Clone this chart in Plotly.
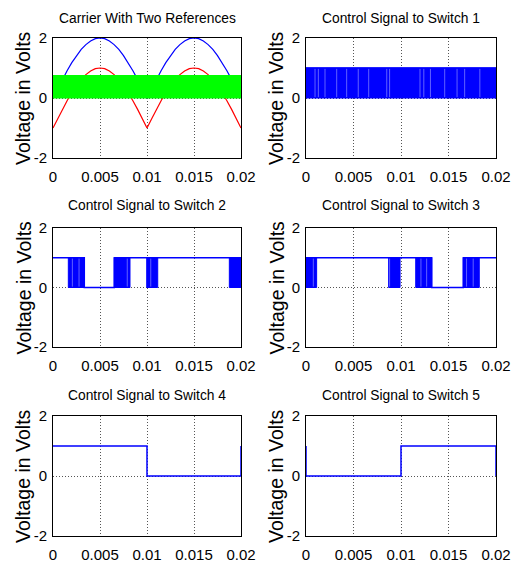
import plotly.graph_objects as go

W, H = 517, 562

# ---------------- data ----------------
t_ref = [i * 0.0005 for i in range(41)]
ref_upper = [0.00, 0.31, 0.62, 0.91, 1.18, 1.41, 1.62, 1.78, 1.90, 1.98, 2.00,
             1.98, 1.90, 1.78, 1.62, 1.41, 1.18, 0.91, 0.62, 0.31, 0.00,
             0.31, 0.62, 0.91, 1.18, 1.41, 1.62, 1.78, 1.90, 1.98, 2.00,
             1.98, 1.90, 1.78, 1.62, 1.41, 1.18, 0.91, 0.62, 0.31, 0.00]
ref_lower = [-1.00, -0.69, -0.38, -0.09, 0.18, 0.41, 0.62, 0.78, 0.90, 0.98, 1.00,
             0.98, 0.90, 0.78, 0.62, 0.41, 0.18, -0.09, -0.38, -0.69, -1.00,
             -0.69, -0.38, -0.09, 0.18, 0.41, 0.62, 0.78, 0.90, 0.98, 1.00,
             0.98, 0.90, 0.78, 0.62, 0.41, 0.18, -0.09, -0.38, -0.69, -1.00]
carrier_t = [0.0, 0.02]
carrier_low = 0.0
carrier_high = 0.75

# switching signals: segment edges and state per segment (1, 0, or "pwm")
sw1_edges = [0.0, 0.02]
sw1_states = ["pwm"]
sw1_gaps = [0.00095, 0.0013, 0.002, 0.00323, 0.00428, 0.0055, 0.0066, 0.0085,
            0.0088, 0.012, 0.0124, 0.0131, 0.0146, 0.0159, 0.0167, 0.0183]

sw2_edges = [0.0, 0.00163, 0.00333, 0.00652, 0.00819, 0.00997, 0.01114, 0.01876, 0.02]
sw2_states = [1, "pwm", 0, "pwm", 1, "pwm", 1, "pwm"]
sw2_gaps = [0.00206, 0.00277, 0.0079, 0.0104]

sw3_edges = [0.0, 0.00112, 0.0087, 0.0099, 0.01155, 0.01323, 0.01656, 0.01824, 0.02]
sw3_states = ["pwm", 1, "pwm", 1, "pwm", 0, "pwm", 1]
sw3_gaps = [0.00077, 0.0088, 0.0121, 0.0127, 0.0169, 0.0176]

sw4_t = [0.0, 0.01, 0.01, 0.02, 0.02]
sw4_v = [1, 1, 0, 0, 1]
sw5_t = [0.0, 0.0, 0.01, 0.01, 0.02, 0.02]
sw5_v = [1, 0, 0, 1, 1, 0]

titles = ["Carrier With Two References", "Control Signal to Switch 1",
          "Control Signal to Switch 2", "Control Signal to Switch 3",
          "Control Signal to Switch 4", "Control Signal to Switch 5"]
x_ticks = [0, 0.005, 0.01, 0.015, 0.02]
x_labels = ["0", "0.005", "0.01", "0.015", "0.02"]
y_ticks = [-2, 0, 2]
y_labels = ["-2", "0", "2"]

# ---------------- layout geometry (pixels) ----------------
cols = [(53, 241), (306, 496)]
rows = [(38, 158), (228, 347), (416, 536)]
title_y = [18, 205, 395]
ytitle_x = [23, 276]

NARROW = "Liberation Sans Narrow, Arial Narrow, Liberation Sans, Arial, sans-serif"
REG = "Liberation Sans, Arial, sans-serif"
BLUE = "#0000FF"
GRID = "#555555"

fig = go.Figure()
layout = {}
annotations = []

for k in range(6):
    r, c = divmod(k, 2)
    idx = "" if k == 0 else str(k + 1)
    x0, x1 = cols[c]
    yt, yb = rows[r]
    layout["xaxis" + idx] = dict(
        domain=[x0 / W, x1 / W], anchor="y" + idx, range=[0, 0.02],
        tickvals=x_ticks, ticktext=x_labels, showgrid=True, automargin=False,
        gridcolor=GRID, griddash="1px,2px", gridwidth=1, zeroline=False,
        showline=True, mirror=True, linecolor="black", linewidth=1,
        ticks="outside", ticklen=5, tickcolor="rgba(0,0,0,0)",
        tickfont=dict(family=NARROW, size=15, color="black"), fixedrange=True)
    layout["yaxis" + idx] = dict(
        domain=[1 - yb / H, 1 - yt / H], anchor="x" + idx, range=[-2, 2],
        tickvals=y_ticks, ticktext=y_labels, showgrid=True, automargin=False,
        gridcolor=GRID, griddash="1px,2px", gridwidth=1, zeroline=False,
        showline=True, mirror=True, linecolor="black", linewidth=1,
        ticks="outside", ticklen=2, tickcolor="rgba(0,0,0,0)",
        tickfont=dict(family=NARROW, size=15, color="black"), fixedrange=True)
    annotations.append(dict(
        text=titles[k], x=(x0 + x1) / 2 / W, y=1 - title_y[r] / H,
        xref="paper", yref="paper", xanchor="center", yanchor="middle",
        showarrow=False, font=dict(family=NARROW, size=13.8, color="black")))
    annotations.append(dict(
        text="Voltage in Volts", x=ytitle_x[c] / W, y=1 - (yt + yb) / 2 / H,
        xref="paper", yref="paper", xanchor="center", yanchor="middle",
        textangle=-90, showarrow=False,
        font=dict(family=REG, size=19.5, color="black")))

# subplot 1: references and carrier band
fig.add_trace(go.Scatter(x=t_ref, y=ref_upper, mode="lines",
                         line=dict(color=BLUE, width=1.2), xaxis="x", yaxis="y"))
fig.add_trace(go.Scatter(x=t_ref, y=ref_lower, mode="lines",
                         line=dict(color="#FF0000", width=1.2), xaxis="x", yaxis="y"))
cx = carrier_t + carrier_t[::-1] + [carrier_t[0]]
cy = [carrier_high] * 2 + [carrier_low] * 2 + [carrier_high]
fig.add_trace(go.Scatter(x=cx, y=cy, mode="lines", fill="toself",
                         fillcolor="#00FF00", line=dict(color="#00FF00", width=1),
                         xaxis="x", yaxis="y"))


def add_switch(edges, states, gaps, ax):
    xa, ya = "x" + ax, "y" + ax
    lx, ly = [], []
    for i, s in enumerate(states):
        lv = 1 if s == "pwm" else s
        lx += [edges[i], edges[i + 1]]
        ly += [lv, lv]
    fig.add_trace(go.Scatter(x=lx, y=ly, mode="lines",
                             line=dict(color=BLUE, width=1.5), xaxis=xa, yaxis=ya))
    bx, by = [], []
    for i, s in enumerate(states):
        if s == "pwm":
            a, b = edges[i], edges[i + 1]
            bx += [a, b, b, a, a, None]
            by += [0, 0, 1, 1, 0, None]
    if bx:
        fig.add_trace(go.Scatter(x=bx, y=by, mode="lines", fill="toself",
                                 fillcolor=BLUE, line=dict(color=BLUE, width=1),
                                 xaxis=xa, yaxis=ya))
    gx, gy = [], []
    for g in gaps:
        gx += [g, g, None]
        gy += [0.03, 0.97, None]
    if gx:
        fig.add_trace(go.Scatter(x=gx, y=gy, mode="lines",
                                 line=dict(color="#7a7aff", width=0.8),
                                 xaxis=xa, yaxis=ya))


add_switch(sw1_edges, sw1_states, sw1_gaps, "2")
add_switch(sw2_edges, sw2_states, sw2_gaps, "3")
add_switch(sw3_edges, sw3_states, sw3_gaps, "4")

fig.add_trace(go.Scatter(x=sw4_t, y=sw4_v, mode="lines",
                         line=dict(color=BLUE, width=1.5), xaxis="x5", yaxis="y5"))
fig.add_trace(go.Scatter(x=sw5_t, y=sw5_v, mode="lines",
                         line=dict(color=BLUE, width=1.5), xaxis="x6", yaxis="y6"))

fig.update_layout(
    width=W, height=H, margin=dict(l=0, r=0, t=0, b=0),
    paper_bgcolor="white", plot_bgcolor="white", showlegend=False,
    annotations=annotations, **layout)

fig.write_html("out.html", config={"displayModeBar": False},
               post_script="document.body.style.margin='0';"
                           "document.body.style.overflow='hidden';")
